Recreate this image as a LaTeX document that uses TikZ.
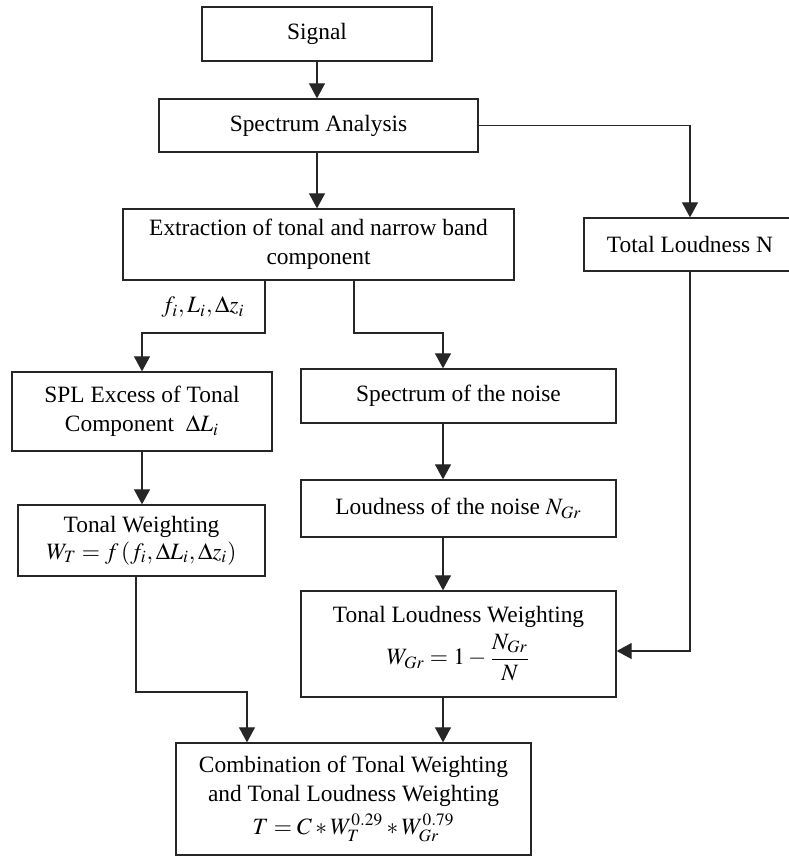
\documentclass[tikz,border=0pt]{standalone}
\usepackage{mathptmx}
\usepackage{fontspec}
\setmainfont{Liberation Serif}
\usetikzlibrary{arrows.meta}
\tikzset{
  box/.style={draw=black!85, line width=0.65pt, inner sep=0pt, align=center,
    font=\fontsize{11.7}{14.5}\selectfont},
  arr/.style={draw=black!85, line width=0.55pt, -{Triangle[length=7.5pt,width=8pt]}},
}
\begin{document}
\begin{tikzpicture}[x=0.5pt,y=-0.5pt]
\useasboundingbox (0,0) rectangle (788,856);
% boxes
\node[box, minimum width=115pt, minimum height=27pt] (sig) at (317,34) {Signal};
\node[box, minimum width=159.5pt, minimum height=26.5pt] (spec) at (318.5,125.5) {Spectrum Analysis};
\node[box, minimum width=195.5pt, minimum height=35.5pt] (ext) at (318.5,244.5) {Extraction of tonal and narrow band\\component};
\node[box, minimum width=106pt, minimum height=26.5pt] (tl) at (690,244.5) {Total Loudness N};
\node[box, minimum width=130pt, minimum height=39.5pt] (spl) at (142,411.5) {SPL Excess of Tonal\\Component\ \ $\Delta L_i$};
\node[box, minimum width=157.5pt, minimum height=27pt] (noise) at (458.5,396) {Spectrum of the noise};
\node[box, minimum width=123.5pt, minimum height=35.5pt] (tw) at (141.5,540.5) {Tonal Weighting\\[-1pt]$W_T = f\,(f_i, \Delta L_i, \Delta z_i)$};
\node[box, minimum width=157.5pt, minimum height=28.5pt] (ln) at (458.5,508.5) {Loudness of the noise $N_{Gr}$};
\node[box, minimum width=157.5pt, minimum height=53pt] (tlw) at (458.5,644) {Tonal Loudness Weighting\\[2pt]$\displaystyle W_{Gr} = 1 - \frac{N_{Gr}}{N}$};
\node[box, minimum width=177.5pt, minimum height=56pt] (comb) at (353.5,799) {Combination of Tonal Weighting\\and Tonal Loudness Weighting\\[2pt]$T = C * W_T^{0.29} * W_{Gr}^{0.79}$};
% label
\node[font=\fontsize{11.7}{14}\selectfont] (lab) at (203,307) {$f_i, L_i, \Delta z_i$};
% helper coordinates
\coordinate (xa) at (265,0);
\coordinate (xb) at (354,0);
\coordinate (xc) at (443,0);
\coordinate (xf) at (136,0);
\coordinate (xg) at (247,0);
\coordinate (ya) at (0,333);
\coordinate (yb) at (0,692);
\coordinate (yc) at (0,651);
% connectors
\draw[arr] (sig.south) -- (spec.north -| sig.south);
\draw[arr] (spec.south -| sig.south) -- (ext.north -| sig.south);
\draw[arr] (spec.east) -| (tl.north);
\draw[arr] (ext.south -| xa) |- (ya -| spl.north) -- (spl.north);
\draw[arr] (ext.south -| xb) |- (ya -| xc) -- (noise.north -| xc);
\draw[arr] (spl.south) -- (tw.north -| spl.south);
\draw[arr] (noise.south -| xc) -- (ln.north -| xc);
\draw[arr] (ln.south -| xc) -- (tlw.north -| xc);
\draw[arr] (tl.south) |- (tlw.east |- yc);
\draw[arr] (tw.south -| xf) |- (yb -| xg) -- (comb.north -| xg);
\draw[arr] (tlw.south -| xc) -- (comb.north -| xc);
\end{tikzpicture}
\end{document}
